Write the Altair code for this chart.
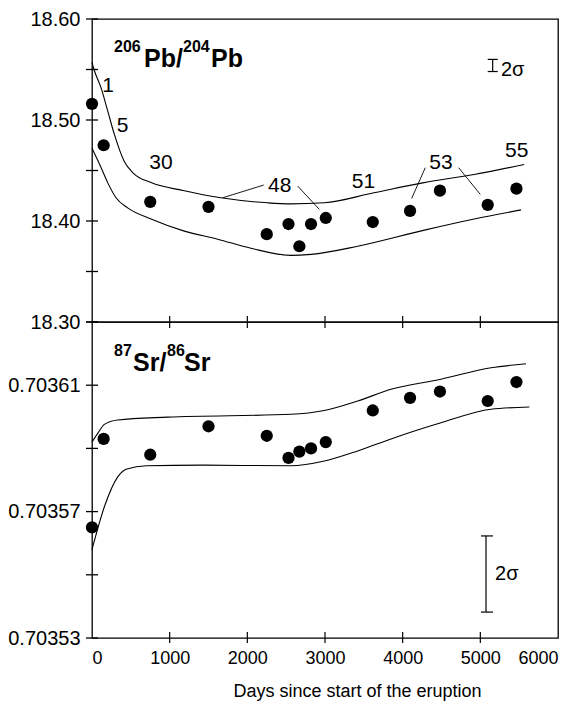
import altair as alt
import pandas as pd

# ---------------- data ----------------
days = [0, 150, 750, 1500, 2250, 2530, 2670, 2820, 3010, 3615, 4095, 4480, 5095, 5465]
pb = [18.516, 18.475, 18.419, 18.414, 18.387, 18.397, 18.375, 18.397, 18.403,
      18.399, 18.410, 18.430, 18.416, 18.432]
sr = [0.703565, 0.703593, 0.703588, 0.703597, 0.703594, 0.703587, 0.703589,
      0.703590, 0.703592, 0.703602, 0.703606, 0.703608, 0.703605, 0.703611]

pb_up_days = [0, 30, 116, 202, 287, 416, 524, 760, 1189, 1661, 2262, 2562, 2990, 3630, 4275, 4920, 5565]
pb_up_vals = [18.557, 18.549, 18.532, 18.509, 18.486, 18.459, 18.448, 18.438, 18.430, 18.423,
              18.418, 18.417, 18.418, 18.428, 18.438, 18.446, 18.456]
pb_lo_days = [0, 116, 202, 309, 459, 760, 1189, 1618, 2047, 2562, 2820, 3421, 4280, 4922, 5524]
pb_lo_vals = [18.472, 18.453, 18.438, 18.423, 18.413, 18.402, 18.390, 18.382, 18.373, 18.366,
              18.367, 18.375, 18.391, 18.402, 18.411]

sr_up_days = [0, 80, 159, 331, 975, 2562, 2991, 3421, 3850, 4493, 5137, 5588]
sr_up_vals = [0.703592, 0.703595, 0.7035976, 0.703599, 0.7035999, 0.7036008, 0.703602,
              0.703605, 0.7036087, 0.7036119, 0.7036155, 0.7036168]
sr_lo_days = [0, 166, 331, 450, 700, 1403, 2562, 2991, 3421, 3850, 4493, 5137, 5631]
sr_lo_vals = [0.703558, 0.703572, 0.703581, 0.7035835, 0.7035845, 0.7035847, 0.7035845,
              0.703586, 0.7035892, 0.703593, 0.7035981, 0.7036024, 0.7036031]

# sample-number labels (top panel)
lab_text = ["1", "5", "30", "48", "51", "53", "55"]
lab_days = [206, 393, 888, 2417, 3496, 4493, 5468]
lab_vals = [18.534, 18.494, 18.457, 18.435, 18.439, 18.457, 18.469]

# leader lines
lead_d1 = [2211, 2648, 4291, 4721]
lead_v1 = [18.4356, 18.4346, 18.4528, 18.4528]
lead_d2 = [1683, 2927, 4116, 4999]
lead_v2 = [18.4230, 18.4115, 18.4224, 18.4264]

# 2 sigma bars
pb_sig_day, pb_sig_lo, pb_sig_hi, pb_sig_w = 5159, 18.548, 18.560, [5095, 5224]
sr_sig_day, sr_sig_lo, sr_sig_hi, sr_sig_w = 5073, 0.7035382, 0.7035623, [5008, 5163]

x_ticks = [1000, 2000, 3000, 4000, 5000]
pb_ticks = [18.30, 18.35, 18.40, 18.45, 18.50, 18.55, 18.60]
sr_ticks = [0.70353, 0.70355, 0.70357, 0.70359, 0.70361, 0.70363]
pb_labels = [18.30, 18.40, 18.50, 18.60]
sr_labels = [0.70353, 0.70357, 0.70361]
x_labels = [0, 1000, 2000, 3000, 4000, 5000, 6000]

W = 466
H_TOP = 303
H_BOT = 316
FONT = "Liberation Sans"

# ---------------- encodings ----------------
xscale = alt.Scale(domain=[0, 6000], nice=False, zero=False)
top_scale = alt.Scale(domain=[18.30, 18.60], nice=False, zero=False)
bot_scale = alt.Scale(domain=[0.70353, 0.70363], nice=False, zero=False)

top_x_axis = None
bot_x_axis = alt.Axis(values=x_labels, format="d", title="Days since start of the eruption",
                      labelFont=FONT, labelFontSize=18, labelPadding=11,
                      titleFont=FONT, titleFontSize=18, titleFontWeight="normal",
                      titleX=265, titleY=58, titleAlign="center", titleBaseline="alphabetic",
                      domain=False, ticks=False, tickSize=0, grid=False,
                      labelColor="black", titleColor="black")
top_y_axis = alt.Axis(values=pb_labels, format=".2f", title=None, labelFont=FONT,
                      labelFontSize=20, labelPadding=12, domain=False, ticks=False,
                      tickSize=0, grid=False, labelColor="black")
bot_y_axis = alt.Axis(values=sr_labels, format=".5f", title=None, labelFont=FONT,
                      labelFontSize=20, labelPadding=12, domain=False, ticks=False,
                      tickSize=0, grid=False, labelColor="black")


def X(field, axis):
    return alt.X(field, type="quantitative", scale=xscale, axis=axis)


def Y(field, scale, axis):
    return alt.Y(field, type="quantitative", scale=scale, axis=axis)


def panel(pts_vals, up_d, up_v, lo_d, lo_v, yscale, xaxis, yaxis, ticks, height, tick_y, extra):
    pts = pd.DataFrame({"d": days, "v": pts_vals})
    curves = pd.concat([
        pd.DataFrame({"d": up_d, "v": up_v, "c": "up"}),
        pd.DataFrame({"d": lo_d, "v": lo_v, "c": "lo"}),
    ])
    lines = alt.Chart(curves).mark_line(color="black", strokeWidth=1.1, interpolate="monotone").encode(
        x=X("d", xaxis), y=Y("v", yscale, yaxis), detail="c:N")
    dots = alt.Chart(pts).mark_circle(size=150, color="black", opacity=1).encode(
        x=X("d", xaxis), y=Y("v", yscale, yaxis))
    yt = alt.Chart(pd.DataFrame({"v": ticks})).mark_rule(color="black", strokeWidth=1.3).encode(
        y=Y("v", yscale, yaxis), x=alt.value(-6), x2=alt.value(6))
    layers = [lines, dots, yt]
    for (a, b) in tick_y:
        layers.append(alt.Chart(pd.DataFrame({"d": x_ticks})).mark_tick(
            color="black", thickness=1.2, size=abs(b - a), orient="vertical", opacity=1).encode(
            x=X("d", xaxis), y=alt.value((a + b) / 2)))
    return alt.layer(*layers, *extra).properties(width=W, height=height)


def texts(df, size, weight, align, baseline, xaxis, yscale, yaxis, font=FONT):
    return alt.Chart(df).mark_text(fontSize=size, fontWeight=weight, align=align, baseline=baseline,
                                   font=font, color="black").encode(
        x=X("d", xaxis), y=Y("v", yscale, yaxis), text="t:N")


# ---------------- top panel extras ----------------
top_extra = [
    texts(pd.DataFrame({"d": lab_days, "v": lab_vals, "t": lab_text}), 21, "normal", "center",
          "middle", top_x_axis, top_scale, top_y_axis),
    alt.Chart(pd.DataFrame({"d": lead_d1, "v": lead_v1, "d2": lead_d2, "v2": lead_v2}))
    .mark_rule(color="black", strokeWidth=0.9).encode(
        x=X("d", top_x_axis), y=Y("v", top_scale, top_y_axis), x2="d2:Q", y2="v2:Q"),
    texts(pd.DataFrame({"d": [669, 1532], "v": [18.5527, 18.5527], "t": ["Pb/", "Pb"]}), 25, "bold",
          "left", "alphabetic", top_x_axis, top_scale, top_y_axis),
    texts(pd.DataFrame({"d": [283, 1172], "v": [18.5676, 18.5676], "t": ["206", "204"]}), 16, "bold",
          "left", "alphabetic", top_x_axis, top_scale, top_y_axis),
    alt.Chart(pd.DataFrame({"d": [pb_sig_day], "v": [pb_sig_lo], "v2": [pb_sig_hi]}))
    .mark_rule(color="black", strokeWidth=1.2).encode(
        x=X("d", top_x_axis), y=Y("v", top_scale, top_y_axis), y2="v2:Q"),
    alt.Chart(pd.DataFrame({"d": [pb_sig_w[0]] * 2, "d2": [pb_sig_w[1]] * 2, "v": [pb_sig_lo, pb_sig_hi]}))
    .mark_rule(color="black", strokeWidth=1.2).encode(
        x=X("d", top_x_axis), x2="d2:Q", y=Y("v", top_scale, top_y_axis)),
    texts(pd.DataFrame({"d": [5266], "v": [18.5437], "t": ["2σ"]}), 20, "normal", "left",
          "alphabetic", top_x_axis, top_scale, top_y_axis),
]

# ---------------- bottom panel extras ----------------
bot_extra = [
    texts(pd.DataFrame({"d": [528, 1185], "v": [0.7036145, 0.7036145], "t": ["Sr/", "Sr"]}), 25, "bold",
          "left", "alphabetic", bot_x_axis, bot_scale, bot_y_axis),
    texts(pd.DataFrame({"d": [283, 966], "v": [0.7036192, 0.7036192], "t": ["87", "86"]}), 16, "bold",
          "left", "alphabetic", bot_x_axis, bot_scale, bot_y_axis),
    alt.Chart(pd.DataFrame({"d": [sr_sig_day], "v": [sr_sig_lo], "v2": [sr_sig_hi]}))
    .mark_rule(color="black", strokeWidth=1.2).encode(
        x=X("d", bot_x_axis), y=Y("v", bot_scale, bot_y_axis), y2="v2:Q"),
    alt.Chart(pd.DataFrame({"d": [sr_sig_w[0]] * 2, "d2": [sr_sig_w[1]] * 2, "v": [sr_sig_lo, sr_sig_hi]}))
    .mark_rule(color="black", strokeWidth=1.2).encode(
        x=X("d", bot_x_axis), x2="d2:Q", y=Y("v", bot_scale, bot_y_axis)),
    texts(pd.DataFrame({"d": [5189], "v": [0.7035503], "t": ["2σ"]}), 20, "normal", "left",
          "middle", bot_x_axis, bot_scale, bot_y_axis),
]

top = panel(pb, pb_up_days, pb_up_vals, pb_lo_days, pb_lo_vals, top_scale, top_x_axis, top_y_axis,
            pb_ticks, H_TOP, [(H_TOP - 6, H_TOP)], top_extra)
bot = panel(sr, sr_up_days, sr_up_vals, sr_lo_days, sr_lo_vals, bot_scale, bot_x_axis, bot_y_axis,
            sr_ticks, H_BOT, [(0, 6), (H_BOT - 6, H_BOT + 5)], bot_extra)

chart = alt.vconcat(top, bot, spacing=0, bounds="flush").properties(
    padding={"left": 7, "top": 8, "right": 0, "bottom": 4},
    background="white",
).configure_view(
    stroke="black", strokeWidth=1.3
).configure_axis(
    domain=False, ticks=False, tickSize=0, grid=False, labelColor="black", titleColor="black"
)

chart.save("out.html", embed_options={"renderer": "svg", "actions": False})
